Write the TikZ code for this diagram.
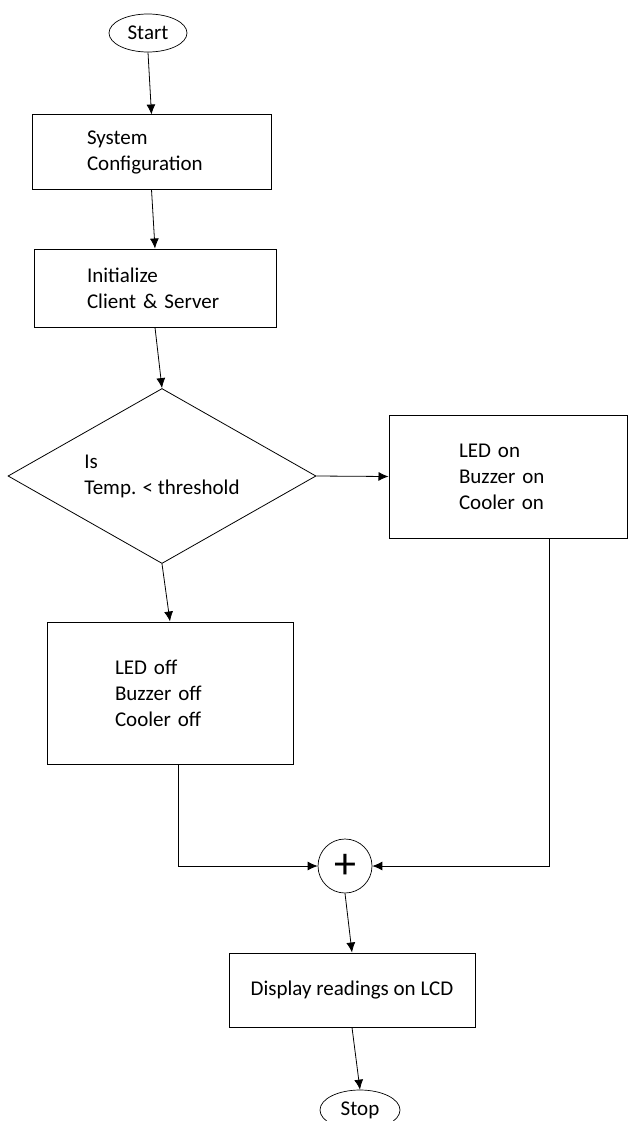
\documentclass[tikz,border=0pt]{standalone}
\usepackage{fontspec}
\setmainfont{Carlito}
\usetikzlibrary{shapes.geometric}
\usetikzlibrary{arrows.meta}

\begin{document}
\begin{tikzpicture}[x=1pt, y=-1pt
    , font=\fontsize{21}{26}\selectfont
    , terminal/.style={ ellipse, draw, line width=0.7pt
                      , inner sep=0pt
                      , minimum width=78pt, minimum height=38pt
                      }
    , process/.style={ rectangle, draw, line width=1pt
                     , inner sep=0pt, align=left
                     }
    , decision/.style={ diamond, draw, line width=0.8pt
                      , inner sep=0pt, align=left, aspect=1.76
                      , minimum width=308pt, minimum height=175pt
                      }
    , junction/.style={ circle, draw, line width=0.7pt
                      , inner sep=0pt, minimum size=54pt
                      }
    , flow/.style={-{Latex[length=10pt,width=9pt]}, line width=0.8pt}
    ]

  \useasboundingbox (0,0) rectangle (628,1121);

  \node (start) [terminal] at (148,33) {Start};

  \node (config) [process, minimum width=239pt, minimum height=74pt
                 , text width=129pt]
    at (151.5,152) {System\\Configuration};

  \node (init) [process, minimum width=242pt, minimum height=78pt
               , text width=136pt]
    at (155,288) {Initialize\\Client \& Server};

  \node (test) [decision] at (162,476) {Is\\Temp. < threshold};

  \node (alarmon) [process, minimum width=238pt, minimum height=123pt
                  , text width=98pt]
    at (508,476.5) {LED on\\Buzzer on\\Cooler on};

  \node (alarmoff) [process, minimum width=246pt, minimum height=142pt
                   , text width=110pt]
    at (170,693) {LED off\\Buzzer off\\Cooler off};

  \node (merge) [junction] at (345,866) {\fontsize{44}{44}\selectfont +};

  \node (display) [process, minimum width=246pt, minimum height=74pt]
    at (352,990) {Display readings on LCD};

  \node (stop) [terminal, minimum width=80pt, minimum height=40pt]
    at (360,1110) {Stop};

  \draw [flow] (start.south) -- (config.north);
  \draw [flow] (config.south) -- (init.north);
  \draw [flow] (init.south) -- (test.north);
  \draw [flow] (test.east) -- (alarmon.west);
  \draw [flow] (test.south) -- (alarmoff.north);
  \draw [flow] ([xshift=41pt]alarmon.south) |- (merge.east);
  \draw [flow] ([xshift=8pt]alarmoff.south) |- (merge.west);
  \draw [flow] (merge.south) -- (display.north);
  \draw [flow] (display.south) -- (stop.north);

\end{tikzpicture}
\end{document}
